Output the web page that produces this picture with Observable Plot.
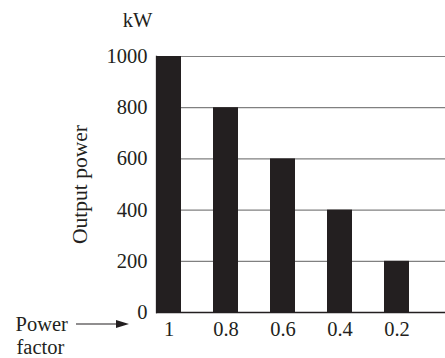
<!DOCTYPE html>
<html><head><meta charset="utf-8">
<script src="https://cdn.jsdelivr.net/npm/d3@7"></script>
<script src="https://cdn.jsdelivr.net/npm/@observablehq/plot@0.6"></script>
<style>body{margin:0;background:#fff} #chart svg{display:block}</style>
</head><body><div id="chart"></div>
<script>
const factors = ["1", "0.8", "0.6", "0.4", "0.2"];
const outputs = [1000, 800, 600, 400, 200];
const yTicks = [0, 200, 400, 600, 800, 1000];
const gridTicks = [200, 400, 600, 800, 1000];
const yLabel = "Output power";
const unitLabel = "kW";
const xLabelLines = ["Power", "factor"];

const data = factors.map((f, i) => ({factor: f, output: outputs[i]}));
const ink = "#231f20";
const font = "'Liberation Serif', 'Times New Roman', serif";

// annotation arrow pointing from "Power" toward the x tick labels
const arrowMark = (index, scales, values, dims) => {
  const g = d3.create("svg:g");
  const y = dims.height - dims.marginBottom + 12;
  const x2 = dims.marginLeft - 27;
  const x1 = dims.marginLeft - 80;
  g.append("line").attr("x1", x1).attr("x2", x2 - 10).attr("y1", y).attr("y2", y)
    .attr("stroke", ink).attr("stroke-width", 1.2);
  g.append("path").attr("d", `M${x2},${y}L${x2 - 13},${y - 4}L${x2 - 13},${y + 4}Z`).attr("fill", ink);
  return g.node();
};

const chart = Plot.plot({
  width: 445,
  height: 358,
  marginLeft: 156,
  marginTop: 56,
  marginBottom: 46,
  marginRight: 0,
  style: {fontFamily: font, fontSize: "20px", color: ink, background: "#fff"},
  x: {type: "band", domain: factors, paddingInner: 0.56, paddingOuter: 0.315, align: 0, label: null},
  y: {domain: [0, 1000], label: null},
  marks: [
    Plot.ruleY(gridTicks, {stroke: "#808080", strokeWidth: 1.2}),
    Plot.barY(data, {x: "factor", y: "output", fill: ink}),
    Plot.ruleY([0], {stroke: ink, strokeWidth: 1.3}),
    Plot.frame({anchor: "left", stroke: ink, strokeWidth: 1.3}),
    Plot.axisY({ticks: yTicks, tickFormat: d => String(d), tickSize: 0, tickPadding: 9, label: null, fontSize: 20.5}),
    Plot.axisX({tickSize: 0, tickPadding: 9, label: null, fontSize: 20.5}),
    Plot.text([unitLabel], {text: d => d, frameAnchor: "top-left", dx: -19, dy: -36, textAnchor: "middle", lineAnchor: "middle", fontSize: 20.5}),
    Plot.text([yLabel], {text: d => d, frameAnchor: "left", dx: -76, rotate: -90, textAnchor: "middle", lineAnchor: "middle", fontSize: 21.5}),
    Plot.text([xLabelLines[0]], {text: d => d, frameAnchor: "bottom-left", dx: -141, dy: 12, textAnchor: "start", lineAnchor: "middle", fontSize: 20.5}),
    Plot.text([xLabelLines[1]], {text: d => d, frameAnchor: "bottom-left", dx: -140, dy: 35, textAnchor: "start", lineAnchor: "middle", fontSize: 20.5}),
    arrowMark
  ]
});
document.getElementById("chart").append(chart);
</script>
</body></html>
